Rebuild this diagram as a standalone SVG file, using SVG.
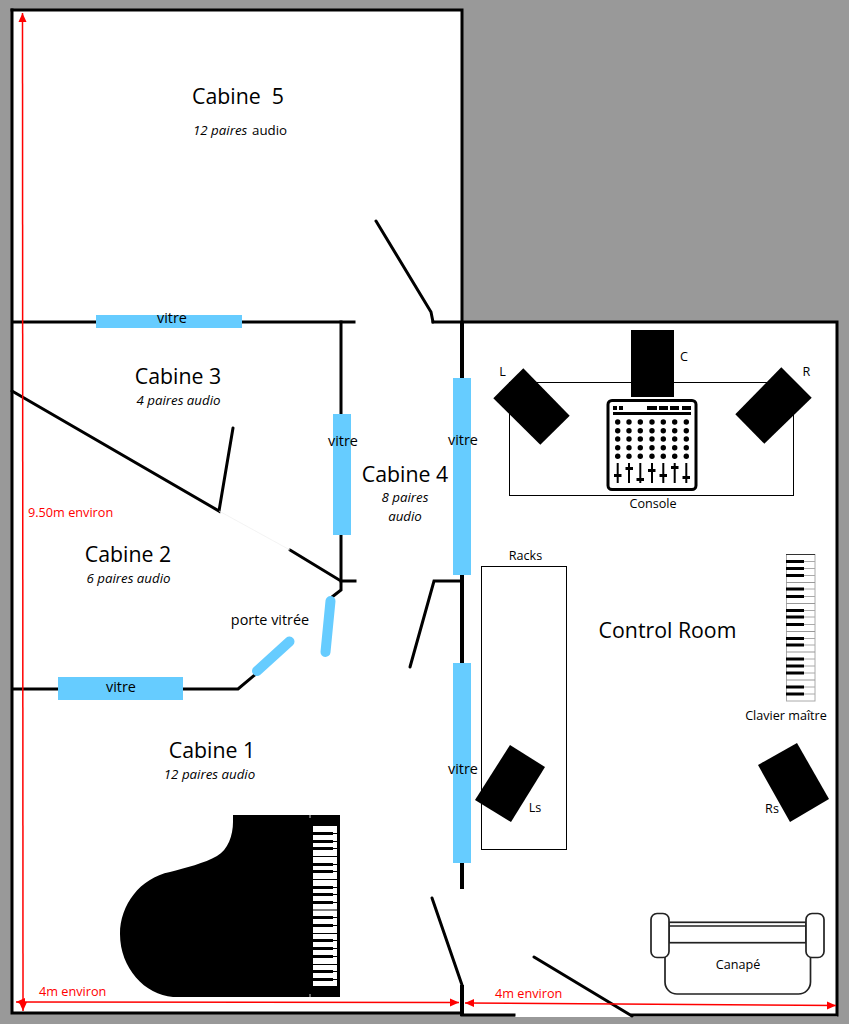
<svg xmlns="http://www.w3.org/2000/svg" width="849" height="1024" viewBox="0 0 849 1024">
<style>
text{font-family:"Open Sans","Noto Sans","DejaVu Sans",sans-serif;fill:#000;white-space:pre}
.h{font-size:21.300px;text-anchor:middle}
.i{font-size:13.300px;font-style:italic;text-anchor:middle}
.s{font-size:12.600px;text-anchor:middle}
.v{font-size:14.400px;text-anchor:middle}
.r{font-size:12.700px;fill:#f00}
.w{fill:none;stroke:#000;stroke-width:3;stroke-linecap:square}
.w4{fill:none;stroke:#000;stroke-width:4;stroke-linecap:butt}
.d{fill:none;stroke:#000;stroke-width:3;stroke-linecap:round}
.g{fill:#66ccff}
.gc{fill:none;stroke:#66ccff;stroke-width:10;stroke-linecap:round}
.red{fill:none;stroke:#f00;stroke-width:1.500}
.thin{fill:none;stroke:#000;stroke-width:1}
.sofa{fill:#fff;stroke:#222;stroke-width:1.700}
</style>
<defs>
<marker id="ah" markerUnits="userSpaceOnUse" markerWidth="10" markerHeight="10" refX="9" refY="5" orient="auto-start-reverse"><path d="M0 1L9 5L0 9Z" fill="#f00"/></marker>
<g id="kk">
<rect x="0" y="-1.500" width="20" height="3" fill="#000"/>
<line x1="20" y1="0" x2="24" y2="0" stroke="#000"/>
</g>
</defs>
<rect width="849" height="1024" fill="#999"/>
<path d="M12 10H462V322H837V1017H515V1015H462V1013H12Z" fill="#fff"/>

<g id="walls">
<path class="w" d="M12 10H462V322"/>
<path class="w" d="M12 10V1013H462"/>
<path class="w" d="M13 322H354"/>
<path class="w" d="M433 322H837V1015H632"/>
<path class="w" d="M462 1015H514"/>
<path class="w4" d="M462 322V378M462 575V663M462 863V889"/>
<path class="w4" d="M462 985V1016"/>
<path class="w" d="M341 322V581H355"/>
<path class="d" d="M376 221L431 312L433 322"/>
<path class="d" d="M432 898L462 985"/>
<path class="d" d="M534 957L632 1016"/>
<path class="d" d="M410 667L434 581H462"/>
<path class="d" d="M12 391L219 511L233 428"/>
<path class="d" d="M290 550L341 581V590L332 597"/>
<path class="d" d="M13 689H238L257 673"/>
<line x1="219" y1="511" x2="290" y2="550" stroke="#eee" stroke-width="0.700"/>
</g>

<g id="glass">
<rect class="g" x="96" y="315" width="146" height="13"/>
<rect class="g" x="333" y="414" width="18" height="121"/>
<rect class="g" x="453" y="378" width="18" height="197"/>
<rect class="g" x="453" y="663" width="18" height="200"/>
<rect class="g" x="58" y="677" width="125" height="23"/>
<line class="gc" x1="330.500" y1="601" x2="325.500" y2="652"/>
<line class="gc" x1="289.500" y1="641.500" x2="257" y2="671"/>
</g>

<g id="dimensions">
<line class="red" x1="23" y1="1011" x2="22.500" y2="13" marker-start="url(#ah)" marker-end="url(#ah)"/>
<line class="red" x1="16" y1="1002" x2="459" y2="1002.500" marker-start="url(#ah)" marker-end="url(#ah)"/>
<line class="red" x1="465" y1="1003" x2="836" y2="1005.500" marker-start="url(#ah)" marker-end="url(#ah)"/>
<text class="r" x="28" y="517">9.50m environ</text>
<text class="r" x="39" y="996">4m environ</text>
<text class="r" x="495" y="998">4m environ</text>
</g>

<g id="piano">
<path d="M233 815H340V997H173C145 995 120 968 120 934C120 905 140 878 170 872C185 868 205 863 217 856C228 850 233 835 233 822Z" fill="#000"/>
<rect x="313" y="826" width="24" height="160" fill="#fff"/>
<path d="M310 815V818M310 994V997" stroke="#fff" stroke-width="0.800"/>
<path d="M313 856.500H337M313 879.500H337M313 910H337M313 933.500H337M313 964.500H337" stroke="#000" stroke-width="1"/>
<use href="#kk" x="313" y="833.500"/>
<use href="#kk" x="313" y="841.500"/>
<use href="#kk" x="313" y="848.500"/>
<use href="#kk" x="313" y="864.500"/>
<use href="#kk" x="313" y="871.500"/>
<use href="#kk" x="313" y="887.500"/>
<use href="#kk" x="313" y="894.500"/>
<use href="#kk" x="313" y="902.500"/>
<use href="#kk" x="313" y="917.500"/>
<use href="#kk" x="313" y="925.500"/>
<use href="#kk" x="313" y="940.500"/>
<use href="#kk" x="313" y="948.500"/>
<use href="#kk" x="313" y="956.500"/>
<use href="#kk" x="313" y="971.500"/>
<use href="#kk" x="313" y="979.500"/>
</g>

<g id="console-desk">
<rect class="thin" x="509.500" y="382.500" width="284" height="113"/>
<text class="s" x="653" y="508">Console</text>
</g>
<g id="speaker-c"><rect x="631" y="330" width="43" height="67" fill="#000"/><text class="s" x="684" y="361">C</text></g>
<g id="speaker-l"><polygon points="523.300,368.300 569.700,415.700 540.300,444.700 493.300,398.300" fill="#000"/><text class="s" x="502.500" y="376">L</text></g>
<g id="speaker-r"><polygon points="781.300,367.300 811.700,397.700 764.300,443.700 735.300,414.300" fill="#000"/><text class="s" x="806.500" y="376">R</text></g>
<g id="speaker-ls"><polygon points="510,745 545,767 511,822 475,800" fill="#000"/><text class="s" x="535" y="812">Ls</text></g>
<g id="speaker-rs"><polygon points="797,743 829,799 790,822 758,765" fill="#000"/><text class="s" x="772" y="813">Rs</text></g>

<g id="mixer">
<rect x="608" y="400.500" width="88" height="89" rx="4" fill="#fff" stroke="#000" stroke-width="3"/>
<path d="M613 406h4v4h-4zM619 406h4v4h-4zM647 406h10v4h-10zM659 406h9v4h-9zM670 406h9v4h-9zM682 406h9v4h-9zM613 412h78v3h-78z" fill="#000"/>
<g fill="#000">
<circle cx="617.700" cy="422" r="2.700"/><circle cx="629" cy="422" r="2.700"/><circle cx="640.300" cy="422" r="2.700"/><circle cx="652" cy="422" r="2.700"/><circle cx="663.300" cy="422" r="2.700"/><circle cx="674.700" cy="422" r="2.700"/><circle cx="686.300" cy="422" r="2.700"/>
<circle cx="617.700" cy="430.700" r="2.700"/><circle cx="629" cy="430.700" r="2.700"/><circle cx="640.300" cy="430.700" r="2.700"/><circle cx="652" cy="430.700" r="2.700"/><circle cx="663.300" cy="430.700" r="2.700"/><circle cx="674.700" cy="430.700" r="2.700"/><circle cx="686.300" cy="430.700" r="2.700"/>
<circle cx="617.700" cy="439" r="2.700"/><circle cx="629" cy="439" r="2.700"/><circle cx="640.300" cy="439" r="2.700"/><circle cx="652" cy="439" r="2.700"/><circle cx="663.300" cy="439" r="2.700"/><circle cx="674.700" cy="439" r="2.700"/><circle cx="686.300" cy="439" r="2.700"/>
<circle cx="617.700" cy="447.700" r="2.700"/><circle cx="629" cy="447.700" r="2.700"/><circle cx="640.300" cy="447.700" r="2.700"/><circle cx="652" cy="447.700" r="2.700"/><circle cx="663.300" cy="447.700" r="2.700"/><circle cx="674.700" cy="447.700" r="2.700"/><circle cx="686.300" cy="447.700" r="2.700"/>
<circle cx="617.700" cy="456.300" r="2.700"/><circle cx="629" cy="456.300" r="2.700"/><circle cx="640.300" cy="456.300" r="2.700"/><circle cx="652" cy="456.300" r="2.700"/><circle cx="663.300" cy="456.300" r="2.700"/><circle cx="674.700" cy="456.300" r="2.700"/><circle cx="686.300" cy="456.300" r="2.700"/>
</g>
<path d="M617.700 463V483M629 463V483M640.300 463V483M652 463V483M663.300 463V483M674.700 463V483M686.300 463V483" stroke="#000" stroke-width="2"/>
<path d="M614 474h7.500v3h-7.500zM625.500 467h7.500v3h-7.500zM636.500 478h7.500v3h-7.500zM648 469h7.500v3h-7.500zM659.500 474h7.500v3h-7.500zM671 466h7.500v3h-7.500zM682.500 476h7.500v3h-7.500z" fill="#000"/>
</g>

<g id="racks"><rect class="thin" x="481.500" y="566.500" width="85" height="283"/><text class="s" x="525.500" y="560">Racks</text></g>

<g id="keyboard">
<rect x="786.500" y="554.500" width="28.500" height="146.500" fill="#fff" stroke="#aaa" stroke-width="1"/>
<line x1="786" y1="554.500" x2="815" y2="554.500" stroke="#333" stroke-width="1"/>
<path d="M786 582.500H815M786 603.500H815M786 631.500H815M786 652H815M786 680H815" stroke="#999" stroke-width="1"/>
<path d="M786 561.500H815M786 568.500H815M786 575.500H815M786 589H815M786 596.500H815M786 610.500H815M786 617H815M786 624.500H815M786 638.500H815M786 645H815M786 659H815M786 666H815M786 673H815M786 687H815M786 694H815" stroke="#aaa" stroke-width="1"/>
<path d="M786 561.500H804M786 568.500H804M786 575.500H804M786 589H804M786 596.500H804M786 610.500H804M786 617H804M786 624.500H804M786 638.500H804M786 645H804M786 659H804M786 666H804M786 673H804M786 687H804M786 694H804" stroke="#000" stroke-width="3"/>
<text class="s" x="786" y="720">Clavier maître</text>
</g>

<g id="sofa">
<rect class="sofa" x="665" y="930" width="145.500" height="64" rx="12"/>
<rect x="669" y="922.300" width="137" height="20.400" fill="#fff" stroke="#222" stroke-width="1.700"/>
<line x1="669" y1="926" x2="806" y2="926" stroke="#222" stroke-width="1.700"/>
<rect class="sofa" x="651" y="913.500" width="18" height="44" rx="6"/>
<rect class="sofa" x="806" y="913.500" width="18" height="44" rx="6"/>
<text class="s" x="738" y="969">Canapé</text>
</g>

<g id="labels">
<text class="h" x="238" y="104">Cabine  5</text>
<text x="193" y="135" font-size="13.300" font-style="italic">12 paires</text>
<text x="252" y="135" font-size="13.300">audio</text>
<text class="h" x="178" y="384">Cabine 3</text>
<text class="i" x="178.500" y="405">4 paires audio</text>
<text class="h" x="128" y="562">Cabine 2</text>
<text class="i" x="128.500" y="583">6 paires audio</text>
<text class="h" x="405" y="482">Cabine 4</text>
<text class="i" x="405" y="502">8 paires</text>
<text class="i" x="405" y="521">audio</text>
<text class="h" x="212" y="758">Cabine 1</text>
<text class="i" x="209.500" y="779">12 paires audio</text>
<text class="h" x="667.500" y="638">Control Room</text>
<text class="v" x="270" y="625">porte vitrée</text>
<text class="v" x="172" y="323">vitre</text>
<text class="v" x="343" y="446">vitre</text>
<text class="v" x="463" y="445">vitre</text>
<text class="v" x="463" y="774">vitre</text>
<text class="v" x="121" y="692">vitre</text>
</g>
</svg>
